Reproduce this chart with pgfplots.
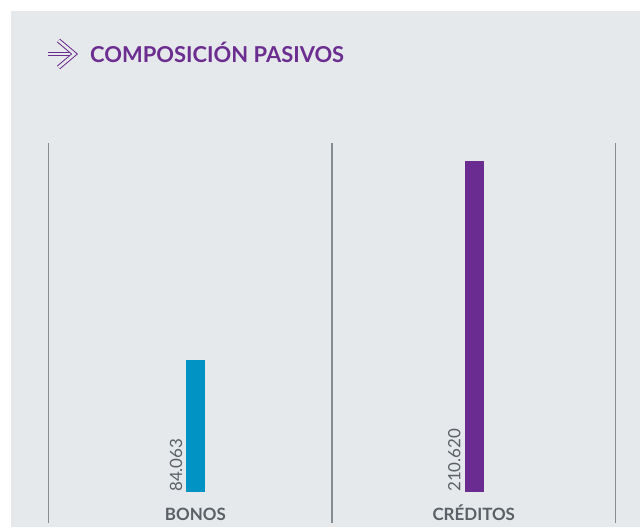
\documentclass[border=0pt]{standalone}
\usepackage{fontspec}
\setmainfont{Lato}
\usepackage{pgfplots}
\pgfplotsset{compat=1.18}
\definecolor{bgc}{HTML}{E6E9EC}
\definecolor{gridc}{HTML}{878C91}
\definecolor{bonos}{HTML}{0093C4}
\definecolor{cred}{HTML}{6A2C91}
\definecolor{titc}{HTML}{6B2D8F}
\definecolor{labc}{HTML}{5A6066}
\begin{document}
\begin{tikzpicture}
\useasboundingbox (0,0) rectangle (640bp,531bp);
\fill[white] (0,0) rectangle (640bp,531bp);
\fill[bgc] (11bp,4bp) rectangle (640bp,520bp);
% arrow icon
\draw[titc, line width=1bp, double=bgc, double distance=2.6bp] (48bp,477bp) -- (72bp,477bp);
\draw[titc, line width=1bp, double=bgc, double distance=2.6bp, line join=miter] (58.5bp,490.5bp) -- (74.5bp,477bp) -- (58.5bp,463.5bp);
\node[anchor=base west, inner sep=0pt, font=\fontsize{22}{26}\selectfont\bfseries, text=titc] at (90bp,468.5bp) {COMPOSICIÓN PASIVOS};
\begin{axis}[
  at={(48.5bp,8bp)}, anchor=south west, scale only axis,
  width=567bp, height=380bp,
  xmin=-0.5, xmax=1.5, ymin=-19.73, ymax=222.07,
  axis line style={draw=none}, major tick length=0pt,
  ytick=\empty,
  xtick={0.018,1}, xticklabels={BONOS, CRÉDITOS},
  xticklabel style={anchor=base, inner sep=0pt, yshift=3bp, font=\fontsize{17}{20}\selectfont\bfseries, text=labc},
  extra x ticks={-0.5,0.5,1.5}, extra x tick labels={},
  extra x tick style={grid=major, major grid style={gridc, line width=1.4bp}},
  clip=false,
]
\addplot[ybar, bar width=19bp, bar shift=5.25bp, fill=bonos, draw=none] coordinates {(0,84.063)};
\addplot[ybar, bar width=19bp, bar shift=0.75bp, fill=cred, draw=none] coordinates {(1,210.620)};
\addplot[draw=none, mark=none, nodes near coords, point meta=explicit symbolic,
  every node near coord/.style={xshift=-8.25bp, rotate=90, anchor=base west, inner sep=0pt, font=\fontsize{17}{18}\selectfont, text=labc}]
  coordinates {(0,0) [84.063]};
\addplot[draw=none, mark=none, nodes near coords, point meta=explicit symbolic,
  every node near coord/.style={xshift=-13.5bp, rotate=90, anchor=base west, inner sep=0pt, font=\fontsize{17}{18}\selectfont, text=labc}]
  coordinates {(1,0) [210.620]};
\end{axis}
\end{tikzpicture}
\end{document}
